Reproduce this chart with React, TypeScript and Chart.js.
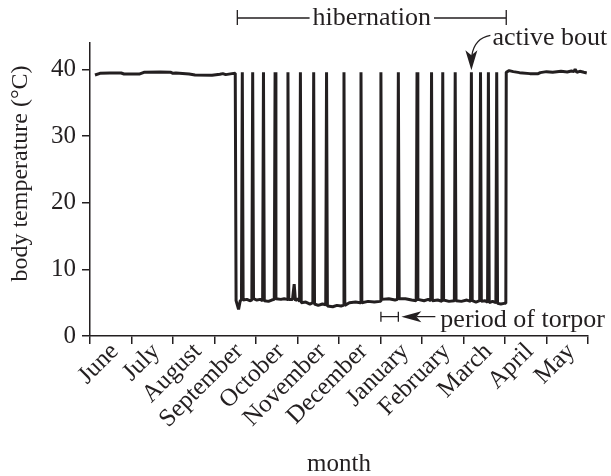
import { useEffect, useRef } from 'react';
import { Chart, registerables } from 'chart.js';

Chart.register(...registerables);

const INK = '#231f20';
const FONT = "'Liberation Serif', 'Times New Roman', Times, serif";

const MONTHS = ['June', 'July', 'August', 'September', 'October', 'November', 'December', 'January', 'February', 'March', 'April', 'May'];
const Y_TICKS = [0, 10, 20, 30, 40];
const Y_TITLE = 'body temperature (°C)';
const X_TITLE = 'month';

// month position (0 = start of June) and body temperature (°C)
const MONTH_POS = [
  0.12, 0.24, 0.48, 0.75, 0.82, 1.2, 1.3, 1.69, 1.95, 2.0, 2.07, 2.39, 2.53, 2.94, 3.13, 3.2, 3.27, 3.42, 3.5,
  3.52, 3.58, 3.62,
  3.65, 3.67, 3.69, 3.78, 3.85,
  3.9, 3.92, 3.94, 4.02, 4.1,
  4.16, 4.18, 4.2, 4.3, 4.38,
  4.44, 4.46, 4.48, 4.6, 4.68,
  4.75, 4.77, 4.79, 4.88, 4.92, 4.95, 5.0,
  5.05, 5.07, 5.09, 5.2, 5.3,
  5.37, 5.39, 5.41, 5.5, 5.6,
  5.68, 5.7, 5.72, 5.85, 5.95, 6.05,
  6.1, 6.12, 6.14, 6.25, 6.4,
  6.51, 6.53, 6.55, 6.7, 6.85,
  6.99, 7.01, 7.03, 7.2, 7.35,
  7.41, 7.43, 7.45, 7.6, 7.75,
  7.86, 7.88, 7.9, 8.05, 8.15,
  8.21, 8.23, 8.25, 8.38,
  8.48, 8.5, 8.52, 8.65,
  8.78, 8.8, 8.82, 8.95, 9.08,
  9.17, 9.19, 9.21, 9.3,
  9.39, 9.41, 9.43, 9.51,
  9.58, 9.6, 9.62, 9.7,
  9.78, 9.8, 9.82, 9.9, 9.98,
  10.02, 10.03,
  10.1, 10.2, 10.35, 10.6, 10.8, 10.85, 11.0, 11.15, 11.35, 11.5, 11.6, 11.66, 11.69, 11.73, 11.8, 11.9, 11.97,
];
const BODY_TEMP = [
  39.2, 39.45, 39.5, 39.5, 39.35, 39.35, 39.6, 39.65, 39.6, 39.45, 39.5, 39.35, 39.2, 39.15, 39.3, 39.4, 39.25, 39.4, 39.45,
  5.3, 4.0, 5.3,
  5.4, 39.6, 5.4, 5.5, 5.3,
  5.4, 39.6, 5.6, 5.4, 5.5,
  5.3, 39.6, 5.3, 5.2, 5.4,
  5.5, 39.6, 5.6, 5.5, 5.6,
  5.5, 39.6, 5.5, 5.5, 7.8, 5.3, 5.6,
  5.2, 39.6, 5.0, 5.1, 4.8,
  5.0, 39.6, 4.8, 4.6, 4.8,
  4.7, 39.6, 4.5, 4.4, 4.6, 4.5,
  4.6, 39.6, 4.6, 5.0, 5.1,
  5.0, 39.6, 5.0, 5.2, 5.1,
  5.2, 39.6, 5.5, 5.6, 5.4,
  5.5, 39.6, 5.6, 5.6, 5.4,
  5.3, 39.6, 5.5, 5.3, 5.5,
  5.3, 39.6, 5.3, 5.4,
  5.2, 39.6, 5.4, 5.2,
  5.3, 39.6, 5.3, 5.2, 5.4,
  5.2, 39.6, 5.3, 5.1,
  5.3, 39.6, 5.2, 5.3,
  5.1, 39.6, 5.0, 5.2,
  5.0, 39.6, 4.9, 4.8, 4.9,
  4.9, 39.6,
  39.85, 39.7, 39.55, 39.4, 39.4, 39.55, 39.7, 39.6, 39.75, 39.65, 39.8, 39.7, 40.05, 39.6, 39.75, 39.6, 39.5,
];

const HIBERNATION = [3.55, 10.03];
const HIBERNATION_LABEL = 'hibernation';
const ACTIVE_BOUT = 9.19;
const ACTIVE_BOUT_LABEL = 'active bout';
const TORPOR = [7.01, 7.43];
const TORPOR_LABEL = 'period of torpor';

const annotations = {
  id: 'annotations',
  afterDraw(chart: any) {
    const { ctx, chartArea } = chart;
    const xs = chart.scales.x;
    const ys = chart.scales.y;
    ctx.save();
    ctx.fillStyle = INK;
    ctx.strokeStyle = INK;
    ctx.lineWidth = 1.3;

    // y-axis title
    ctx.save();
    ctx.font = `24px ${FONT}`;
    ctx.textAlign = 'center';
    ctx.textBaseline = 'alphabetic';
    ctx.translate(27, (chartArea.top + chartArea.bottom) / 2 - 16);
    ctx.rotate(-Math.PI / 2);
    ctx.fillText(Y_TITLE, 0, 0);
    ctx.restore();

    // hibernation bracket
    const hx0 = xs.getPixelForValue(HIBERNATION[0]);
    const hx1 = xs.getPixelForValue(HIBERNATION[1]);
    const hy = chartArea.top - 25;
    ctx.font = `26px ${FONT}`;
    const hw = ctx.measureText(HIBERNATION_LABEL).width;
    const hc = (hx0 + hx1) / 2;
    ctx.beginPath();
    ctx.moveTo(hx0, hy);
    ctx.lineTo(hc - hw / 2 - 3, hy);
    ctx.moveTo(hc + hw / 2 + 3, hy);
    ctx.lineTo(hx1, hy);
    ctx.moveTo(hx0, hy - 8);
    ctx.lineTo(hx0, hy + 7);
    ctx.moveTo(hx1, hy - 8);
    ctx.lineTo(hx1, hy + 7);
    ctx.stroke();
    ctx.textAlign = 'center';
    ctx.textBaseline = 'alphabetic';
    ctx.fillText(HIBERNATION_LABEL, hc, hy + 7);

    // active bout arrow
    const tx = xs.getPixelForValue(ACTIVE_BOUT);
    const ty = ys.getPixelForValue(39.6) - 2;
    ctx.beginPath();
    ctx.moveTo(tx + 19, ty - 35);
    ctx.quadraticCurveTo(tx + 3, ty - 32, tx + 0.5, ty - 15);
    ctx.stroke();
    ctx.beginPath();
    ctx.moveTo(tx, ty);
    ctx.lineTo(tx - 6, ty - 20);
    ctx.lineTo(tx, ty - 15);
    ctx.lineTo(tx + 6, ty - 20);
    ctx.closePath();
    ctx.fill();
    ctx.textAlign = 'left';
    ctx.fillText(ACTIVE_BOUT_LABEL, tx + 21, ty - 25);

    // period of torpor
    const bx0 = xs.getPixelForValue(TORPOR[0]);
    const bx1 = xs.getPixelForValue(TORPOR[1]);
    const by = ys.getPixelForValue(2.9);
    ctx.beginPath();
    ctx.moveTo(bx0, by);
    ctx.lineTo(bx1, by);
    ctx.moveTo(bx0, by - 5);
    ctx.lineTo(bx0, by + 5);
    ctx.moveTo(bx1, by - 5);
    ctx.lineTo(bx1, by + 5);
    const ax = bx1 + 3;
    ctx.moveTo(ax + 15, by);
    ctx.lineTo(ax + 34, by);
    ctx.stroke();
    ctx.beginPath();
    ctx.moveTo(ax, by);
    ctx.lineTo(ax + 20, by - 5.5);
    ctx.lineTo(ax + 15, by);
    ctx.lineTo(ax + 20, by + 5.5);
    ctx.closePath();
    ctx.fill();
    ctx.fillText(TORPOR_LABEL, ax + 39, by + 10);
    ctx.restore();
  },
};

export default function App() {
  const canvasRef = useRef<HTMLCanvasElement | null>(null);

  useEffect(() => {
    if (!canvasRef.current) return;
    const chart = new Chart(canvasRef.current, {
      type: 'line',
      data: {
        datasets: [
          {
            data: MONTH_POS.map((m, i) => ({ x: m, y: BODY_TEMP[i] })),
            borderColor: INK,
            borderWidth: 3,
            borderJoinStyle: 'bevel',
            pointRadius: 0,
            tension: 0,
            fill: false,
          },
        ],
      },
      options: {
        animation: false,
        responsive: false,
        devicePixelRatio: 1,
        layout: { padding: { left: 0, right: 23, top: 43, bottom: 0 } },
        plugins: { legend: { display: false }, tooltip: { enabled: false } },
        scales: {
          x: {
            type: 'linear',
            min: 0,
            max: 12,
            afterBuildTicks: (scale: any) => {
              scale.ticks = MONTHS.map((_, i) => ({ value: i + 0.5 }));
            },
            afterFit: (scale: any) => {
              scale.height = 140;
            },
            grid: {
              offset: true,
              drawOnChartArea: false,
              drawTicks: true,
              tickLength: 8,
              color: INK,
              lineWidth: 1.5,
            },
            border: { display: true, color: INK, width: 1.5 },
            ticks: {
              autoSkip: false,
              minRotation: 45,
              maxRotation: 45,
              padding: -6,
              labelOffset: 4,
              color: INK,
              font: { family: FONT, size: 25, lineHeight: 1.1 },
              callback: (_v: any, i: number) => MONTHS[i],
            },
            title: {
              display: true,
              text: X_TITLE,
              color: INK,
              font: { family: FONT, size: 25 },
              padding: { top: 0, bottom: -3 },
            },
          },
          y: {
            min: 0,
            max: 44,
            afterBuildTicks: (scale: any) => {
              scale.ticks = Y_TICKS.map((v) => ({ value: v }));
            },
            afterFit: (scale: any) => {
              scale.width = 90;
            },
            grid: {
              drawOnChartArea: false,
              drawTicks: true,
              tickLength: 8,
              color: INK,
              lineWidth: 1.5,
            },
            border: { display: true, color: INK, width: 1.5 },
            ticks: {
              padding: 6,
              color: INK,
              font: { family: FONT, size: 25 },
            },
          },
        },
      },
      plugins: [annotations],
    });
    return () => chart.destroy();
  }, []);

  return (
    <div style={{ position: 'absolute', left: 0, top: 0, width: 611, height: 476 }}>
      <canvas ref={canvasRef} width={611} height={476} style={{ display: 'block' }} />
    </div>
  );
}
